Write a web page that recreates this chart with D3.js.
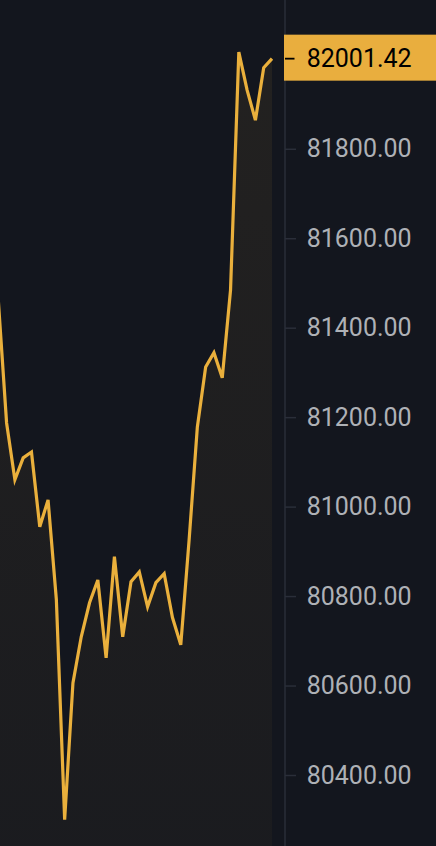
<!DOCTYPE html>
<html>
<head>
<meta charset="utf-8">
<script src="https://cdn.jsdelivr.net/npm/d3@7"></script>
<style>
  html, body { margin: 0; padding: 0; background: #13161e; overflow: hidden; }
  svg { display: block; }
</style>
</head>
<body>
<svg id="chart"></svg>
<script>
// prices, oldest first (first one sits just left of the edge)
var prices = [81462, 81187, 81060, 81109, 81122, 80955, 81015, 80792, 80300, 80606,
              80709, 80785, 80836, 80662, 80888, 80709, 80832, 80854, 80776, 80830,
              80850, 80752, 80691, 80924, 81178, 81312, 81344, 81288, 81484, 82016,
              81931, 81864, 81981, 82001.42];
var tickValues = [80400, 80600, 80800, 81000, 81200, 81400, 81600, 81800];
var lastPrice = 82001.42;

var width = 436, height = 846;
var axisX = 285;

var svg = d3.select("#chart")
    .attr("width", width)
    .attr("height", height);

var x = d3.scaleLinear()
    .domain([0, prices.length - 1])
    .range([-1.7, 272]);

var y = d3.scaleLinear()
    .domain([80400, 82000])
    .range([775, 59.3]);

// soft gradient under the line
var grad = svg.append("defs").append("linearGradient")
    .attr("id", "fillGrad")
    .attr("gradientUnits", "userSpaceOnUse")
    .attr("x1", 0).attr("y1", 0)
    .attr("x2", 0).attr("y2", height);
grad.append("stop").attr("offset", "0%").attr("stop-color", "#eab03c").attr("stop-opacity", 0.075);
grad.append("stop").attr("offset", "100%").attr("stop-color", "#eab03c").attr("stop-opacity", 0.035);

var area = d3.area()
    .x(function(d, i) { return x(i); })
    .y0(height)
    .y1(function(d) { return y(d); });

svg.append("path")
    .datum(prices)
    .attr("d", area)
    .attr("fill", "url(#fillGrad)");

var line = d3.line()
    .x(function(d, i) { return x(i); })
    .y(function(d) { return y(d); });

svg.append("path")
    .datum(prices)
    .attr("d", line)
    .attr("fill", "none")
    .attr("stroke", "#eab03c")
    .attr("stroke-width", 3.2);

// price axis on the right
svg.append("line")
    .attr("x1", axisX).attr("x2", axisX)
    .attr("y1", 0).attr("y2", height)
    .attr("stroke", "#2a2e39")
    .attr("stroke-width", 1.5);

var axis = d3.axisRight(y)
    .tickValues(tickValues)
    .tickFormat(d3.format(".2f"))
    .tickSize(11)
    .tickPadding(10.7)
    .tickSizeOuter(0);

var gAxis = svg.append("g")
    .attr("transform", "translate(" + axisX + ",0)")
    .call(axis);

gAxis.select(".domain").remove();
gAxis.selectAll(".tick line")
    .attr("stroke", "#2a2e39")
    .attr("stroke-width", 1.5);
gAxis.selectAll(".tick text")
    .attr("fill", "#aeb1b6")
    .attr("font-family", "Roboto, sans-serif")
    .attr("font-size", 25);

// current price badge
var badge = svg.append("g");
badge.append("rect")
    .attr("x", 284)
    .attr("y", y(lastPrice) - 24)
    .attr("width", width - 284)
    .attr("height", 46)
    .attr("fill", "#e9ae3e");
badge.append("line")
    .attr("x1", axisX).attr("x2", axisX + 9.5)
    .attr("y1", y(lastPrice)).attr("y2", y(lastPrice))
    .attr("stroke", "#000")
    .attr("stroke-width", 1.8);
badge.append("text")
    .attr("x", 306.7)
    .attr("y", y(lastPrice))
    .attr("dy", "0.32em")
    .attr("fill", "#000")
    .attr("font-family", "Roboto, sans-serif")
    .attr("font-size", 25)
    .text(d3.format(".2f")(lastPrice));
</script>
</body>
</html>
